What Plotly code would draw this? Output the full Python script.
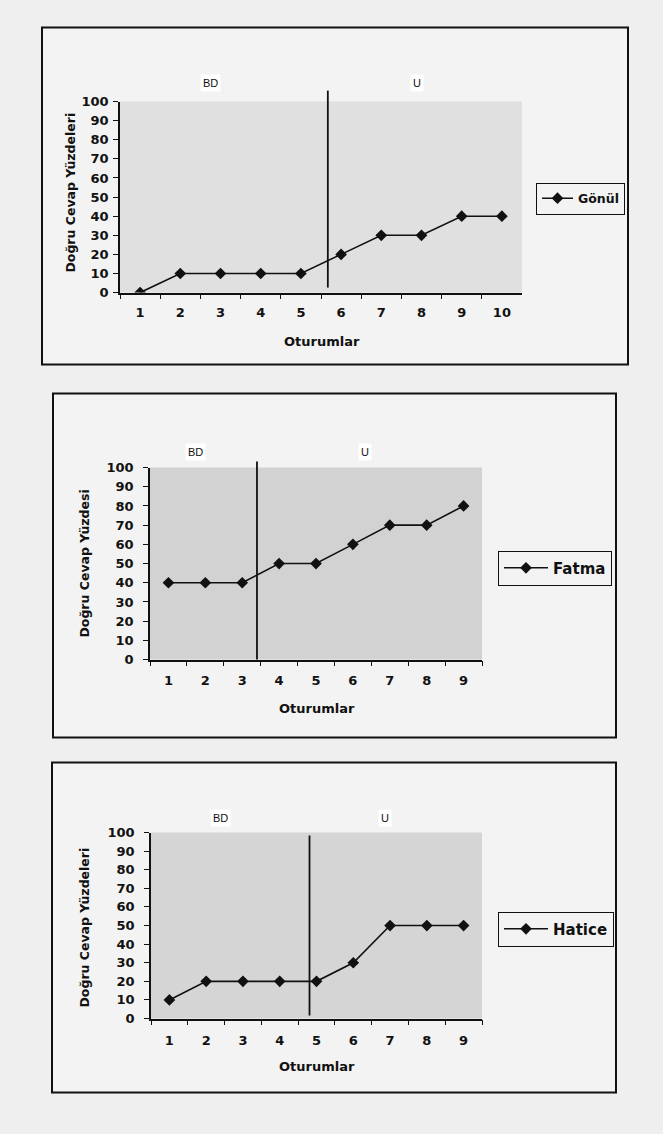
import plotly.graph_objects as go

W, H = 663, 1134

sessions1 = ["1", "2", "3", "4", "5", "6", "7", "8", "9", "10"]
gonul = [0, 10, 10, 10, 10, 20, 30, 30, 40, 40]
sessions2 = ["1", "2", "3", "4", "5", "6", "7", "8", "9"]
fatma = [40, 40, 40, 50, 50, 60, 70, 70, 80]
sessions3 = ["1", "2", "3", "4", "5", "6", "7", "8", "9"]
hatice = [10, 20, 20, 20, 20, 30, 50, 50, 50]
names = ["Gönül", "Fatma", "Hatice"]
ytitles = ["Doğru Cevap Yüzdeleri", "Doğru Cevap Yüzdesi", "Doğru Cevap Yüzdeleri"]
phase_labels = ["BD", "U"]
yticks = [0, 10, 20, 30, 40, 50, 60, 70, 80, 90, 100]
# phase change position (category index, 0-based)
phase_change = [4.67, 2.4, 3.81]

def px(x):
    return x / W

def py(y):
    ys = (y - 6.4) / 0.98685
    return 1 - ys / H

FONT = "Liberation Sans, Arial, sans-serif"
BFONT = "DejaVu Sans, Liberation Sans, sans-serif"

panels = [
    dict(cats=sessions1, vals=gonul, box=(42, 27, 628, 364), plot=(120, 101, 522, 292),
         vline=(90, 287), bd=(210, 82), u=(417, 82), leg=(536, 182), xt=(322, 341), yt=(71, 192),
         bg="#e0e0e0", legfont=12.5, ystand=2, xstand=7, iw=31),
    dict(cats=sessions2, vals=fatma, box=(53, 393, 616, 737), plot=(150, 467, 482, 659),
         vline=(461, 659), bd=(195, 451), u=(365, 451), leg=(498, 550), xt=(317, 708), yt=(85, 563),
         bg="#d2d2d2", legfont=15, ystand=7, xstand=8, iw=44),
    dict(cats=sessions3, vals=hatice, box=(52, 762, 616, 1092), plot=(151, 832, 482, 1018),
         vline=(835, 1015), bd=(220, 817), u=(385, 817), leg=(498, 911), xt=(317, 1066), yt=(85, 927),
         bg="#d5d5d5", legfont=15, ystand=7, xstand=9, iw=44),
]

fig = go.Figure()
shapes = []
annotations = []
layout = {}

for i, p in enumerate(panels):
    k = "" if i == 0 else str(i + 1)
    xa, ya = "x" + k, "y" + k
    lg = "legend" + k
    x0, y0, x1, y1 = p["plot"]
    fig.add_trace(go.Scatter(
        x=p["cats"], y=p["vals"], name=names[i], mode="lines+markers",
        line=dict(color="#111111", width=1.6),
        marker=dict(symbol="diamond", size=9, color="#111111"),
        xaxis=xa, yaxis=ya, legend=lg, showlegend=True))
    layout["xaxis" + k] = dict(
        domain=[px(x0), px(x1)], anchor=ya, type="category",
        range=[-0.5, len(p["cats"]) - 0.5], tickson="boundaries",
        ticks="outside", ticklen=5, tickcolor="#111111", tickwidth=1,
        showline=True, linecolor="#111111", linewidth=1.5,
        showgrid=False, zeroline=False, ticklabelstandoff=p["xstand"],
        tickfont=dict(family=BFONT, size=13, color="#111111", weight="bold"))
    layout["yaxis" + k] = dict(
        domain=[py(y1), py(y0)], anchor=xa, range=[0, 100],
        tickvals=yticks, ticktext=[str(v) for v in yticks],
        ticks="outside", ticklen=5, tickcolor="#111111", tickwidth=1,
        showline=True, linecolor="#111111", linewidth=1.5,
        showgrid=False, zeroline=False, ticklabelstandoff=p["ystand"],
        tickfont=dict(family=BFONT, size=13, color="#111111", weight="bold"))
    bx0, by0, bx1, by1 = p["box"]
    shapes.append(dict(type="rect", xref="paper", yref="paper",
                       x0=px(bx0), x1=px(bx1), y0=py(by1), y1=py(by0),
                       line=dict(color="#111111", width=2), fillcolor="#f3f3f3", layer="below"))
    shapes.append(dict(type="rect", xref="paper", yref="paper",
                       x0=px(x0), x1=px(x1), y0=py(y1), y1=py(y0),
                       line=dict(width=0), fillcolor=p["bg"], layer="below"))
    shapes.append(dict(type="line", xref=xa, yref="paper",
                       x0=phase_change[i], x1=phase_change[i],
                       y0=py(p["vline"][1]), y1=py(p["vline"][0]),
                       line=dict(color="#111111", width=1.8)))
    for lab, pos in zip(phase_labels, [p["bd"], p["u"]]):
        annotations.append(dict(text=lab, xref="paper", yref="paper",
                                x=px(pos[0]), y=py(pos[1]), showarrow=False,
                                xanchor="center", yanchor="middle",
                                bgcolor="#ffffff", borderpad=2,
                                font=dict(family=FONT, size=11, color="#111111")))
    annotations.append(dict(text="Oturumlar", xref="paper", yref="paper",
                            x=px(p["xt"][0]), y=py(p["xt"][1]), showarrow=False,
                            xanchor="center", yanchor="middle",
                            font=dict(family=BFONT, size=13, color="#111111", weight="bold")))
    annotations.append(dict(text=ytitles[i], xref="paper", yref="paper",
                            x=px(p["yt"][0]), y=py(p["yt"][1]), showarrow=False,
                            textangle=-90, xanchor="center", yanchor="middle",
                            font=dict(family=BFONT, size=12.5, color="#111111", weight="bold")))
    layout[lg] = dict(x=px(p["leg"][0]), y=py(p["leg"][1]), xanchor="left", yanchor="top",
                      bgcolor="#f3f3f3", bordercolor="#111111", borderwidth=1,
                      itemwidth=p["iw"], tracegroupgap=0,
                      font=dict(family=BFONT, size=p["legfont"], color="#111111", weight="bold"))

fig.update_layout(
    width=W, height=H, margin=dict(l=0, r=0, t=0, b=0),
    paper_bgcolor="#efefef", plot_bgcolor="rgba(0,0,0,0)",
    shapes=shapes, annotations=annotations, **layout)

post = (
    "document.body.style.margin='0px';"
    "document.body.style.overflow='hidden';"
    "document.documentElement.style.overflow='hidden';"
    "var d=document.getElementById('{plot_id}');"
    "d.style.position='fixed';d.style.top='0px';d.style.left='0px';"
)
fig.write_html("out.html", config={"displayModeBar": False}, post_script=post)
